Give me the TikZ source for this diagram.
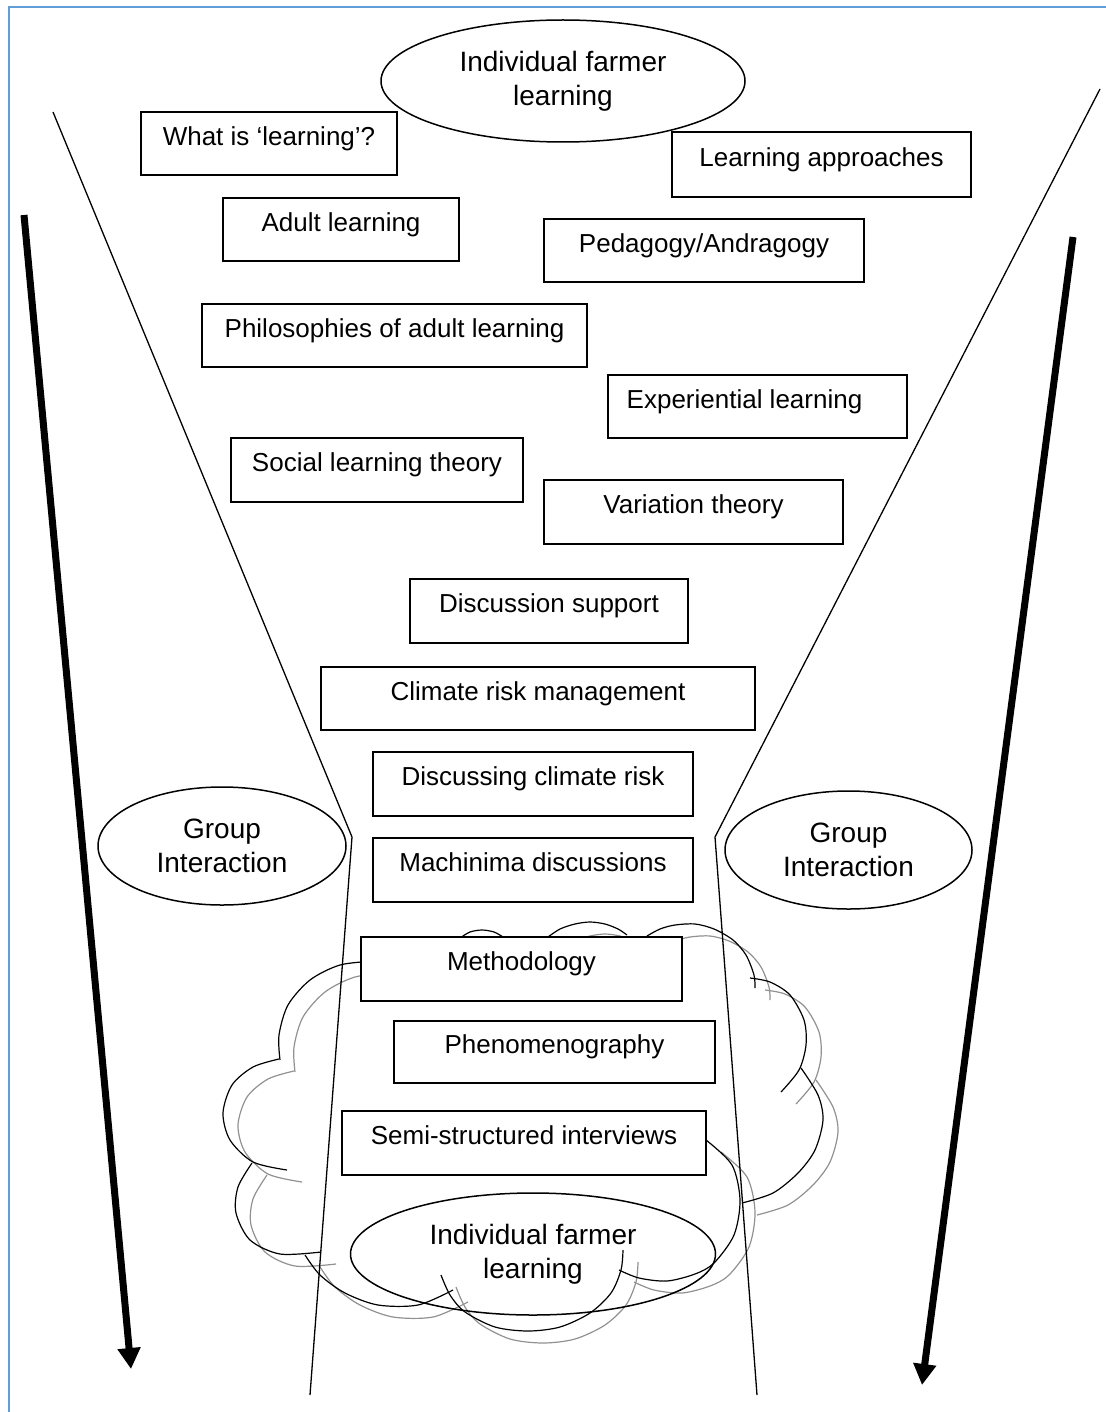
\documentclass[tikz,border=0pt]{standalone}
\usepackage{fontspec}
\setmainfont{Liberation Sans}
\usetikzlibrary{shapes.geometric,arrows.meta}
\definecolor{frameblue}{RGB}{98,157,215}
\definecolor{shadowgray}{RGB}{145,145,145}
\newcommand\cloudlobes[1]{%
  \draw[lobe,#1] plot[smooth] coordinates {(375,961) (340,965) (310,980) (288,1005) (279,1035) (280,1060)};
  \draw[lobe,#1] plot[smooth] coordinates {(279,1059) (253,1067) (232,1085) (223,1113) (230,1140) (253,1162) (287,1170)};
  \draw[lobe,#1] plot[smooth] coordinates {(252,1163) (238,1187) (236,1213) (250,1240) (280,1254) (321,1252)};
  \draw[lobe,#1] plot[smooth] coordinates {(305,1255) (320,1275) (345,1293) (378,1305) (418,1305) (453,1290)};
  \draw[lobe,#1] plot[smooth] coordinates {(441,1275) (450,1295) (465,1312) (495,1327) (528,1331) (560,1327) (590,1313) (611,1293) (621,1270) (623,1250)};
  \draw[lobe,#1] plot[smooth] coordinates {(619,1270) (639,1278) (667,1281) (695,1274) (714,1263) (734,1235) (740,1200) (732,1165) (706,1140)};
  \draw[lobe,#1] plot[smooth] coordinates {(742,1203) (773,1193) (798,1173) (815,1150) (823,1120) (818,1095) (801,1068)};
  \draw[lobe,#1] plot[smooth] coordinates {(750,978) (770,982) (790,995) (804,1020) (806,1045) (799,1070) (781,1092)};
  \draw[lobe,#1] plot[smooth] coordinates {(647,936) (660,929) (675,925) (695,924) (714,929) (733,940) (746,955) (754,975) (755,988)};
  \draw[lobe,#1] plot[smooth] coordinates {(548,937) (560,929) (575,924) (590,922) (605,924) (618,929) (627,935)};
  \draw[lobe,#1] plot[smooth] coordinates {(460,938) (470,932) (482,930) (494,932) (503,937)};
}
\begin{document}
\begin{tikzpicture}[x=0.5pt,y=-0.5pt,
  box/.style={draw, line width=0.8pt, fill=white, inner sep=0pt,
    font=\fontsize{13}{15.6}\selectfont, text height=9.5pt, text depth=7.7pt},
  oval/.style={draw, ellipse, line width=0.75pt, inner sep=0pt, align=center,
    font=\fontsize{14}{16.8}\selectfont},
  funnel/.style={line width=0.65pt},
  bigarrow/.style={line width=3.5pt, -{Triangle[width=11pt,length=10.5pt]}},
  lobe/.style={line width=0.6pt},
  frame/.style={frameblue, line width=1pt}]
\useasboundingbox (0,0) rectangle (1106,1412);
\draw[frame] (9,1412) -- (9,7) -- (1106,7);

% cloud with shadow
\begin{scope}[shift={(15,12)}]
  \cloudlobes{shadowgray}
\end{scope}
\cloudlobes{black}

% funnel
\coordinate (fl1) at (53,112);
\coordinate (fl2) at (352,837);
\coordinate (fl3) at (310,1395);
\coordinate (fr1) at (1100,89);
\coordinate (fr2) at (715,837);
\coordinate (fr3) at (757,1395);
\draw[funnel] (fl1) -- (fl2) -- (fl3);
\draw[funnel] (fr1) -- (fr2) -- (fr3);

% side arrows
\coordinate (al1) at (24,215);
\coordinate (al2) at (131,1369);
\coordinate (ar1) at (1073,237);
\coordinate (ar2) at (922,1385);
\draw[bigarrow] (al1) -- (al2);
\draw[bigarrow] (ar1) -- (ar2);

% ellipses
\node[oval, minimum width=182pt, minimum height=61pt] (top) at (563,81) {Individual farmer\\learning};
\node[oval, minimum width=124pt, minimum height=59pt] (gil) at (222,846) {Group\\Interaction};
\node[oval, minimum width=123.5pt, minimum height=59pt] (gir) at (848.5,850) {Group\\Interaction};
\node[oval, minimum width=182.5pt, minimum height=61pt] (bot) at (533,1254) {Individual farmer\\learning};

% boxes
\node[box, minimum width=128pt, minimum height=31.5pt] (what) at (269,143.5) {What is ‘learning’?};
\node[box, minimum width=149.5pt, minimum height=32.5pt] (appr) at (821.5,164.5) {Learning approaches};
\node[box, minimum width=118pt, minimum height=31.5pt] (adult) at (341,229.5) {Adult learning};
\node[box, minimum width=160pt, minimum height=31.5pt] (ped) at (704,250.5) {Pedagogy/Andragogy};
\node[box, minimum width=192.5pt, minimum height=31.5pt] (phil) at (394.5,335.5) {Philosophies of adult learning};
\node[box, minimum width=149.5pt, minimum height=31.5pt] (exp) at (757.5,406.5) {\hspace*{-13pt}Experiential learning};
\node[box, minimum width=146pt, minimum height=32pt] (social) at (377,470) {Social learning theory};
\node[box, minimum width=149.5pt, minimum height=32pt] (var) at (693.5,512) {Variation theory};
\node[box, minimum width=139pt, minimum height=32pt] (dsup) at (549,611) {Discussion support};
\node[box, minimum width=217pt, minimum height=31.5pt] (crm) at (538,698.5) {Climate risk management};
\node[box, minimum width=160pt, minimum height=32pt] (dcr) at (533,784) {Discussing climate risk};
\node[box, minimum width=160pt, minimum height=32pt] (mach) at (533,870) {Machinima discussions};
\node[box, minimum width=160.5pt, minimum height=32pt] (meth) at (521.5,969) {Methodology};
\node[box, minimum width=160.5pt, minimum height=31pt] (phen) at (554.5,1052) {Phenomenography};
\node[box, minimum width=182pt, minimum height=32pt] (semi) at (524,1143) {Semi-structured interviews};
\end{tikzpicture}
\end{document}
